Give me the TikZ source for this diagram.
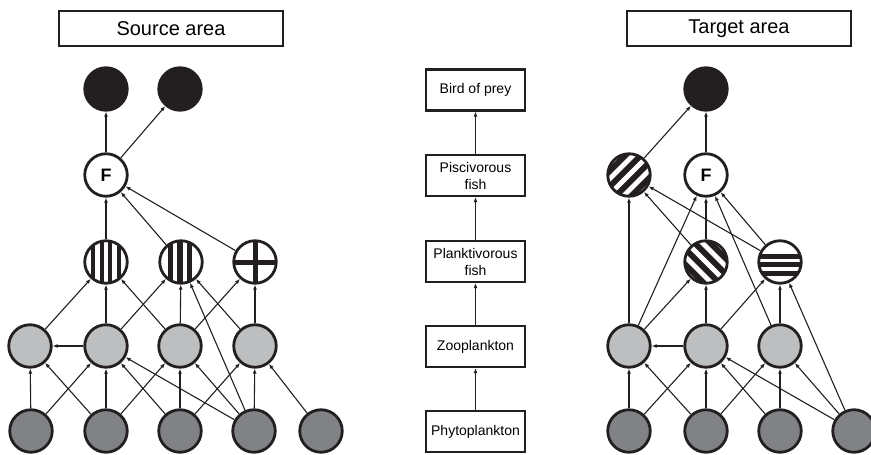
\documentclass[tikz,border=0pt]{standalone}
\usepackage{fontspec}
\setmainfont{Liberation Sans}
\usetikzlibrary{arrows.meta}
\definecolor{lgrey}{HTML}{BDBEC0}
\definecolor{dgrey}{HTML}{808285}
\definecolor{blk}{HTML}{231F20}
\tikzset{
  conn/.style={draw=blk, line width=1.1pt, -{Latex[length=5pt,width=4pt]}},
  circ/.style={circle, draw=blk, line width=2.8pt, minimum size=42.5pt, inner sep=0pt},
  lightc/.style={circ, fill=lgrey},
  darkc/.style={circ, fill=dgrey},
  blackc/.style={circ, fill=blk},
  whitec/.style={circ, fill=white},
  fnode/.style={whitec, font=\bfseries\fontsize{18}{18}\selectfont},
  titlebox/.style={draw=blk, line width=2pt, minimum width=224pt, minimum height=35pt, inner sep=0pt, font=\fontsize{20}{24}\selectfont},
  chainbox/.style={draw=blk, line width=2.2pt, minimum width=99pt, minimum height=41pt, inner sep=0pt, align=center, font=\fontsize{14}{17}\selectfont},
  vbarsA/.style={whitec, path picture={
    \foreach \o in {-12.75,-4.25,4.25,12.75}
      \draw[blk, line width=4.3pt] ([shift={(\o,-30)}]path picture bounding box.center) -- ([shift={(\o,30)}]path picture bounding box.center);}},
  vbarsB/.style={whitec, path picture={
    \foreach \o in {-10.5,-1,8.5}
      \draw[blk, line width=5.8pt] ([shift={(\o,-30)}]path picture bounding box.center) -- ([shift={(\o,30)}]path picture bounding box.center);}},
  crossc/.style={whitec, path picture={
    \draw[blk, line width=5pt] ([shift={(-30,0)}]path picture bounding box.center) -- ([shift={(30,0)}]path picture bounding box.center);
    \draw[blk, line width=5pt] ([shift={(0,-30)}]path picture bounding box.center) -- ([shift={(0,30)}]path picture bounding box.center);}},
  slashc/.style={whitec, path picture={
    \foreach \d in {-16.5,-5.5,5.5,16.5}
      \draw[blk, line width=5.8pt] ([shift={({0.707*\d+25},{0.707*\d-25})}]path picture bounding box.center) -- ([shift={({0.707*\d-25},{0.707*\d+25})}]path picture bounding box.center);}},
  bslashc/.style={whitec, path picture={
    \foreach \d in {-16.5,-5.5,5.5,16.5}
      \draw[blk, line width=5.8pt] ([shift={({0.707*\d+25},{-0.707*\d+25})}]path picture bounding box.center) -- ([shift={({0.707*\d-25},{-0.707*\d-25})}]path picture bounding box.center);}},
  hbarsc/.style={whitec, path picture={
    \foreach \o in {-6,2.5,11}
      \draw[blk, line width=5pt] ([shift={(-30,\o)}]path picture bounding box.center) -- ([shift={(30,\o)}]path picture bounding box.center);}},
}
\begin{document}
\begin{tikzpicture}[x=1pt,y=-1pt]
\useasboundingbox (0,0) rectangle (871,455);
% ---------- Source area ----------
\node[titlebox] (stitle) at (171,28.5) {Source area};
\node[blackc] (SB1) at (106,89) {};
\node[blackc] (SB2) at (180,89) {};
\node[fnode] (SF) at (106,175) {F};
\node[vbarsA] (SV1) at (106,262) {};
\node[vbarsB] (SV2) at (181,262) {};
\node[crossc] (SP) at (255,262) {};
\node[lightc] (SL1) at (30,346) {};
\node[lightc] (SL2) at (106,346) {};
\node[lightc] (SL3) at (180,346) {};
\node[lightc] (SL4) at (255,346) {};
\node[darkc] (SD1) at (31,431) {};
\node[darkc] (SD2) at (106,431) {};
\node[darkc] (SD3) at (180,431) {};
\node[darkc] (SD4) at (254,431) {};
\node[darkc] (SD5) at (321,431) {};
\foreach \a/\b in {SF/SB1,SF/SB2,SV1/SF,SV2/SF,SP/SF,
  SL1/SV1,SL2/SV1,SL3/SV1,SL2/SV2,SL3/SV2,SD4/SV2,SL4/SV2,SL3/SP,SL4/SP,
  SL2/SL1,
  SD1/SL1,SD1/SL2,SD2/SL1,SD2/SL2,SD2/SL3,SD3/SL2,SD3/SL3,SD3/SL4,
  SD4/SL2,SD4/SL3,SD4/SL4,SD5/SL4}
  \draw[conn] (\a) -- (\b);
% ---------- Middle chain ----------
\node[chainbox] (M1) at (475.5,90) {Bird of prey};
\node[chainbox] (M2) at (475.5,175.5) {Piscivorous\\fish};
\node[chainbox] (M3) at (475.5,261.5) {Planktivorous\\fish};
\node[chainbox] (M4) at (475.5,346.5) {Zooplankton};
\node[chainbox] (M5) at (475.5,431.5) {Phytoplankton};
\foreach \a/\b in {M5/M4,M4/M3,M3/M2,M2/M1}
  \draw[conn] (\a) -- (\b);
% ---------- Target area ----------
\node[titlebox] (ttitle) at (739,28.5) {Target area};
\node[blackc] (TB) at (706,89) {};
\node[slashc] (TS1) at (629,175) {};
\node[fnode] (TF) at (706,175) {F};
\node[bslashc] (TS2) at (706,262) {};
\node[hbarsc] (TH) at (780,262) {};
\node[lightc] (TL1) at (629,346) {};
\node[lightc] (TL2) at (706,346) {};
\node[lightc] (TL3) at (780,346) {};
\node[darkc] (TD1) at (629,431) {};
\node[darkc] (TD2) at (706,431) {};
\node[darkc] (TD3) at (780,431) {};
\node[darkc] (TD4) at (854,431) {};
\foreach \a/\b in {TS1/TB,TF/TB,
  TL1/TS1,TS2/TS1,TH/TS1,
  TL1/TF,TS2/TF,TL3/TF,TH/TF,
  TL1/TS2,TL2/TS2,
  TL2/TH,TL3/TH,TD4/TH,
  TL2/TL1,
  TD1/TL1,TD1/TL2,TD2/TL1,TD2/TL2,TD2/TL3,TD3/TL2,TD3/TL3,TD4/TL2,TD4/TL3}
  \draw[conn] (\a) -- (\b);
\end{tikzpicture}
\end{document}
